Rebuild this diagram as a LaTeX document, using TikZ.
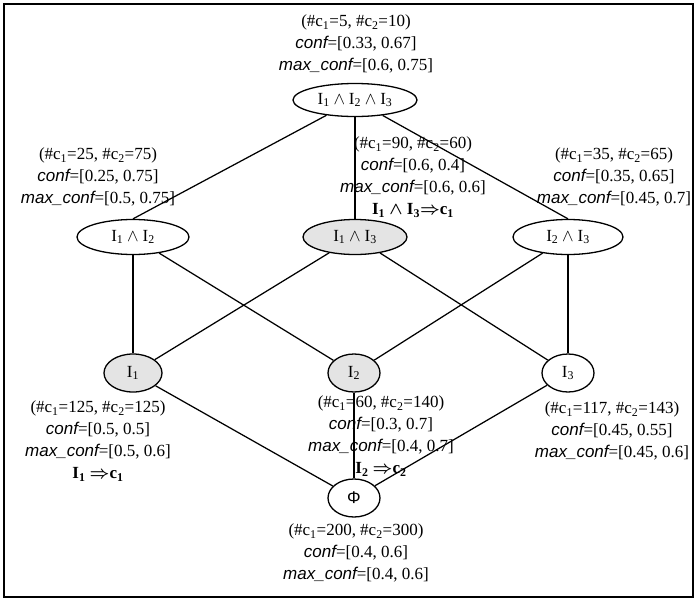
\documentclass[tikz,border=0pt]{standalone}
\usepackage{fontspec}
\setmainfont{Liberation Serif}
\newfontfamily\arialf{Liberation Sans}
\usetikzlibrary{shapes.geometric}
\definecolor{nodegray}{RGB}{228,228,228}
\newcommand{\confw}{{\arialf\itshape conf}}
\newcommand{\mconfw}{{\arialf\itshape max\_conf}}
\newcommand{\csub}[1]{c\textsubscript{#1}}
\newcommand{\isub}[1]{I\textsubscript{#1}}
\newcommand{\andw}{${}\wedge{}$}
\begin{document}
\begin{tikzpicture}[x=1pt,y=-1pt,
  lbl/.style={font=\fontsize{17}{22}\selectfont, align=center, inner sep=0pt},
  nd/.style={ellipse, draw, line width=1.3pt, inner sep=0pt, font=\fontsize{17}{20}\selectfont},
  gnd/.style={nd, fill=nodegray},
  edge/.style={line width=1.25pt}]
\useasboundingbox (0,0) rectangle (697,600);
\node[draw, line width=2pt, minimum width=689pt, minimum height=593pt, inner sep=0pt] (frame) at (348.5,300.5) {};

% nodes
\node[nd, minimum width=124pt, minimum height=33pt] (top) at (355,100) {\isub{1}\andw\isub{2}\andw\isub{3}};
\node[nd, minimum width=112pt, minimum height=35pt] (n12) at (133,237) {\isub{1}\andw\isub{2}};
\node[gnd, minimum width=104pt, minimum height=35pt] (n13) at (355,237) {\isub{1}\andw\isub{3}};
\node[nd, minimum width=110pt, minimum height=35pt] (n23) at (568,237) {\isub{2}\andw\isub{3}};
\node[gnd, minimum width=58pt, minimum height=38pt] (n1) at (133,373) {\isub{1}};
\node[gnd, minimum width=52pt, minimum height=38pt] (n2) at (354,373) {\isub{2}};
\node[nd, minimum width=52pt, minimum height=38pt] (n3) at (568,373) {\isub{3}};
\node[nd, minimum width=52pt, minimum height=38pt] (phi) at (354,498) {{\arialf Φ}};

% edges
\draw[edge] (top) -- (n12.north);
\draw[edge] (top) -- (n13);
\draw[edge] (top) -- (n23.north);
\draw[edge] (n12) -- (n1);
\draw[edge] (n12) -- (n2);
\draw[edge] (n13) -- (n1);
\draw[edge] (n13) -- (n3);
\draw[edge] (n23) -- (n2);
\draw[edge] (n23) -- (n3);
\draw[edge] (n1) -- (phi);
\draw[edge] (n2) -- (phi);
\draw[edge] (n3) -- (phi);

% labels
\node[lbl] (ttop) at (356,44) {(\#\csub{1}=5, \#\csub{2}=10)\\ \confw=[0.33, 0.67]\\ \mconfw=[0.6, 0.75]};
\node[lbl] (t12) at (98,177) {(\#\csub{1}=25, \#\csub{2}=75)\\ \confw=[0.25, 0.75]\\ \mconfw=[0.5, 0.75]};
\node[lbl] (t13) at (413,177) {(\#\csub{1}=90, \#\csub{2}=60)\\ \confw=[0.6, 0.4]\\ \mconfw=[0.6, 0.6]\\ {\bfseries\boldmath \isub{1} $\wedge$ \isub{3}$\Rightarrow$\csub{1}}};
\node[lbl] (t23) at (614,177) {(\#\csub{1}=35, \#\csub{2}=65)\\ \confw=[0.35, 0.65]\\ \mconfw=[0.45, 0.7]};
\node[lbl] (t1) at (98,441) {(\#\csub{1}=125, \#\csub{2}=125)\\ \confw=[0.5, 0.5]\\ \mconfw=[0.5, 0.6]\\ {\bfseries\boldmath \isub{1} $\Rightarrow$\csub{1}}};
\node[lbl] (t2) at (381,436) {(\#\csub{1}=60, \#\csub{2}=140)\\ \confw=[0.3, 0.7]\\ \mconfw=[0.4, 0.7]\\ {\bfseries\boldmath \isub{2} $\Rightarrow$\csub{2}}};
\node[lbl] (t3) at (612,431) {(\#\csub{1}=117, \#\csub{2}=143)\\ \confw=[0.45, 0.55]\\ \mconfw=[0.45, 0.6]};
\node[lbl] (tphi) at (356,553) {(\#\csub{1}=200, \#\csub{2}=300)\\ \confw=[0.4, 0.6]\\ \mconfw=[0.4, 0.6]};
\end{tikzpicture}
\end{document}
